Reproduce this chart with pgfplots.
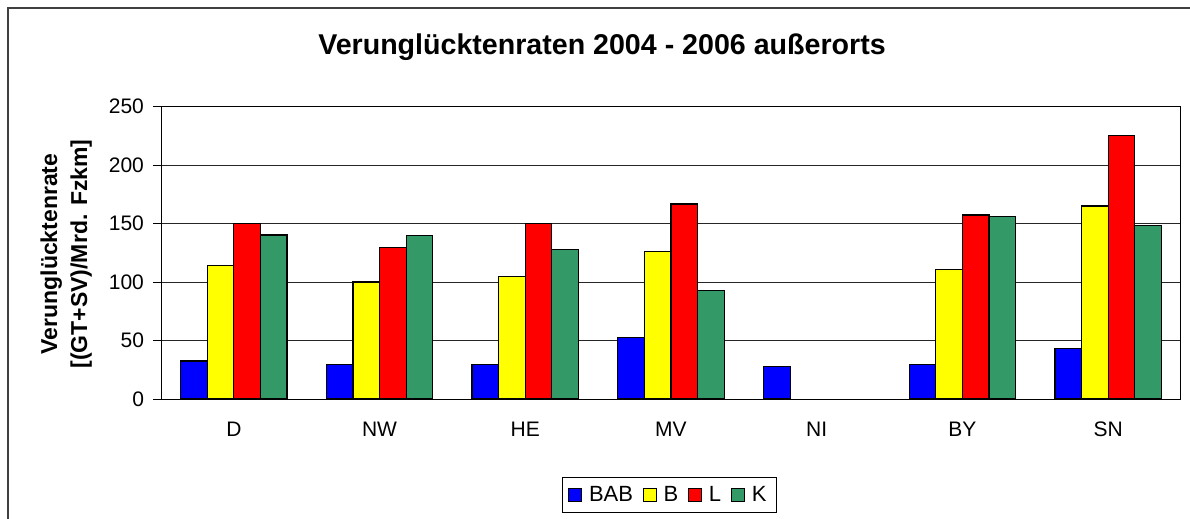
\documentclass[border=0pt]{standalone}
\usepackage{pgfplots}
\pgfplotsset{compat=1.18}
\usepackage{fontspec}
\setmainfont{Liberation Sans}
\definecolor{cBAB}{RGB}{0,0,255}
\definecolor{cB}{RGB}{255,255,0}
\definecolor{cL}{RGB}{255,0,0}
\definecolor{cK}{RGB}{51,153,102}
\definecolor{frame}{RGB}{64,64,64}
\begin{document}
\begin{tikzpicture}
\path[use as bounding box] (0pt,0pt) rectangle (595pt,-259.5pt);
\draw[frame, line width=1pt] (4pt,-262pt) -- (4pt,-4pt) -- (600pt,-4pt);
\node[font=\bfseries\fontsize{14.3}{17}\selectfont] at (301pt,-23.5pt) {Verunglücktenraten 2004 - 2006 außerorts};
\node[rotate=90, anchor=base, font=\bfseries\fontsize{11.5}{14}\selectfont] at (28.5pt,-127pt) {Verunglücktenrate};
\node[rotate=90, anchor=base, font=\bfseries\fontsize{11.5}{14}\selectfont] at (43.5pt,-127pt) {[(GT+SV)/Mrd. Fzkm]};
\begin{axis}[
  at={(80.5pt,-199.5pt)}, anchor=south west,
  width=510pt, height=146.15pt, scale only axis,
  xmin=-0.5, xmax=6.5, ymin=0, ymax=250,
  ytick={0,50,...,250},
  /pgf/number format/assume math mode=true,
  ymajorgrids, major grid style={black!85, line width=0.5pt},
  axis line style={black, line width=0.5pt},
  xtick={0,...,6}, xticklabels={D,NW,HE,MV,NI,BY,SN},
  xtick style={draw=none},
  minor xtick={-0.5,0.5,...,6.5},
  minor x tick style={black, line width=0.5pt},
  ytick style={black, line width=0.5pt},
  minor tick length=3.5pt, major tick length=4pt, tick align=outside,
  tick pos=left,
  tick label style={font=\fontsize{10.5}{12}\selectfont},
  yticklabel style={xshift=-1pt},
  xticklabel style={yshift=-4pt},
  ybar=0pt, bar width=13.3pt,
  every axis plot/.append style={draw=black, line width=0.6pt},
  legend columns=4,
  legend style={at={(0.4985,-0.3284)}, anchor=center, draw=black, line width=0.5pt,
    font=\fontsize{11}{13}\selectfont, inner xsep=3pt,
    /tikz/every odd column/.append style={column sep=1.5pt},
    /tikz/every even column/.append style={column sep=3pt}},
  legend image code/.code={\draw[#1, line width=0.5pt] (0pt,-3.15pt) rectangle (6.3pt,3.15pt);},
]
\addplot[fill=cBAB] coordinates {(0,32.5) (1,29.4) (2,29.4) (3,52.5) (4,28) (5,29.4) (6,43.4)};
\addplot[fill=cB] coordinates {(0,114) (1,100) (2,104.6) (3,126.3) (5,111) (6,165)};
\addplot[fill=cL] coordinates {(0,150) (1,129.7) (2,150) (3,166.8) (5,157.4) (6,225.3)};
\addplot[fill=cK] coordinates {(0,140.3) (1,140) (2,128) (3,92.7) (5,156) (6,148.3)};
\legend{BAB,B,L,K}
\end{axis}
\end{tikzpicture}
\end{document}
